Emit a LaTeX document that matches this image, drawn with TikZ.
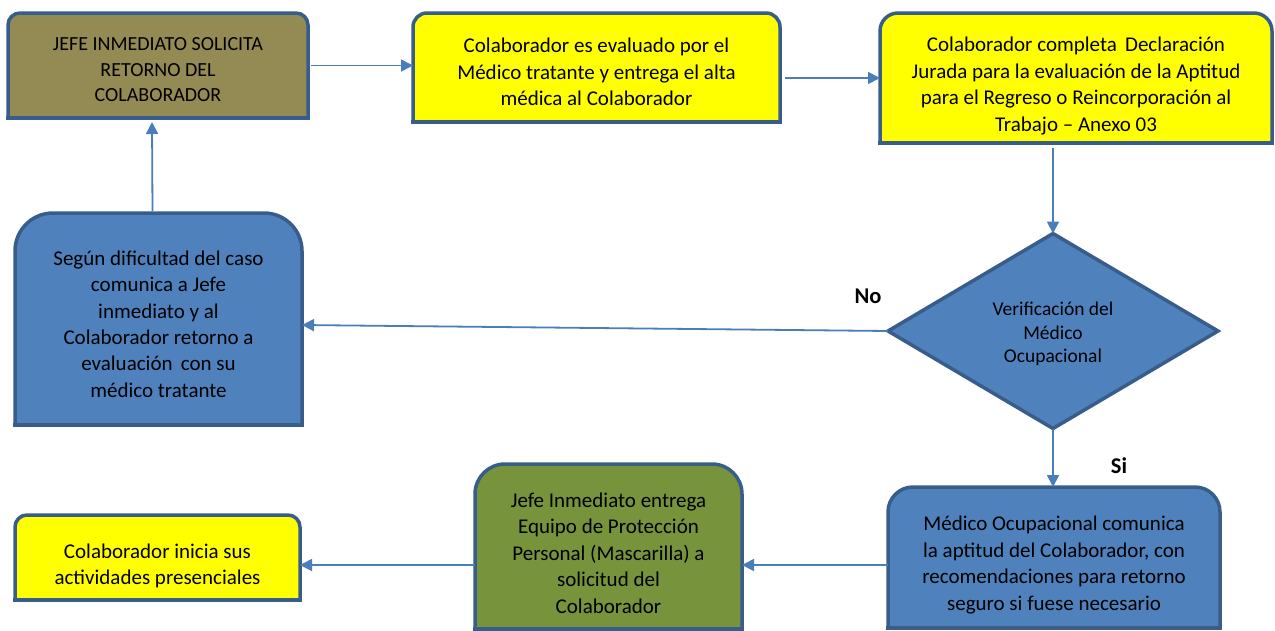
\documentclass[tikz,border=0pt]{standalone}
\usepackage{fontspec}
\setmainfont{Carlito}
\usetikzlibrary{arrows.meta,shapes.geometric}
\definecolor{bordc}{HTML}{385D8A}
\definecolor{bluef}{HTML}{4F81BD}
\definecolor{yellowf}{HTML}{FFFF00}
\definecolor{olivef}{HTML}{948A54}
\definecolor{greenf}{HTML}{77933C}
\definecolor{arrc}{HTML}{4A7EBB}
\newcommand\tbox[7]{%
  \node[inner sep=0pt,outer sep=0pt,minimum width=#4pt,minimum height=#5pt] (#1) at (#2,#3) {};
  \fill[#7] (#1.south west) [rounded corners=#6pt] -- (#1.north west) -- (#1.north east) -- (#1.south east);
  \draw[boxline,rounded corners=#6pt] (#1.south west) -- (#1.north west) -- (#1.north east) -- (#1.south east);
  \draw[boxline,line cap=rect] (#1.south west) -- (#1.south east);
}
\tikzset{
  boxline/.style={draw=bordc,line width=3.5pt},
  txt/.style={align=center,inner sep=0pt,font=\fontsize{21}{26.4}\selectfont,text=black},
  arr/.style={draw=arrc,line width=1.8pt,-{Triangle[length=12pt,width=12pt]}},
  lbl/.style={inner sep=0pt,font=\fontsize{22.5}{26}\selectfont\bfseries}
}
\begin{document}
\begin{tikzpicture}[x=1pt,y=-1pt]
\useasboundingbox (0,0) rectangle (1275,630);
\tbox{A}{158}{65.5}{300}{105}{12}{olivef}
\tbox{B}{596.5}{67.5}{367}{109}{14}{yellowf}
\tbox{C}{1076}{78}{392}{130}{18}{yellowf}
\tbox{D}{158.5}{319}{287}{212}{38}{bluef}
\tbox{E}{1054}{557.5}{332}{141}{25}{bluef}
\tbox{F}{608.5}{546.5}{267}{165}{30}{greenf}
\tbox{G}{157.5}{557.5}{285}{85}{12}{yellowf}
\node[diamond,draw=bordc,fill=bluef,line width=3.5pt,inner sep=0pt,outer sep=0pt,
      minimum width=330pt,minimum height=195pt] (Dm) at (1053,331) {};

\node[txt,font=\fontsize{20}{25.5}\selectfont] (At) at (158,70) {JEFE INMEDIATO SOLICITA\\RETORNO DEL\\COLABORADOR};
\node[txt] (Bt) at (596.5,72) {Colaborador es evaluado por el\\Médico tratante y entrega el alta\\médica al Colaborador};
\node[txt] (Ct) at (1076,86) {Colaborador completa\, Declaración\\Jurada para la evaluación de la Aptitud\\para el Regreso o Reincorporación al\\Trabajo – Anexo 03};
\node[txt] (Dt) at (158.5,324) {Según dificultad del caso\\comunica a Jefe\\inmediato y al\\Colaborador retorno a\\evaluación\, con su\\médico tratante};
\node[txt,font=\fontsize{19.5}{23.5}\selectfont] (Dmt) at (1053,334) {Verificación del\\Médico\\Ocupacional};
\node[txt] (Et) at (1054,565) {Médico Ocupacional comunica\\la aptitud del Colaborador, con\\recomendaciones para retorno\\seguro si fuese necesario};
\node[txt] (Ft) at (608.5,553) {Jefe Inmediato entrega\\Equipo de Protección\\Personal (Mascarilla) a\\solicitud del\\Colaborador};
\node[txt] (Gt) at (157.5,566) {Colaborador inicia sus\\actividades presenciales};

\node[lbl] (no) at (868,296) {No};
\node[lbl] (si) at (1119,466) {Si};

\draw[arr] ([xshift=3pt]A.east) -- (A.east -| B.west);
\draw[arr] ([xshift=5pt]B.east |- C.west) -- (C.west);
\draw[arr] ([yshift=-5pt]C.south -| Dm.north) -- (Dm.north);
\draw[arr] (Dm.west) -- ([yshift=-6pt]D.east);
\draw[arr] ([xshift=-6pt,yshift=2pt]D.north) -- ([xshift=-6pt,yshift=-4pt]A.south);
\draw[arr] (Dm.south) -- (Dm.south |- E.north);
\draw[arr] ([yshift=-7.5pt]E.west) -- ([yshift=-7.5pt]E.west -| F.east);
\draw[arr] ([yshift=-18.5pt]F.west) -- ([yshift=-18.5pt]F.west -| G.east);
\end{tikzpicture}
\end{document}
